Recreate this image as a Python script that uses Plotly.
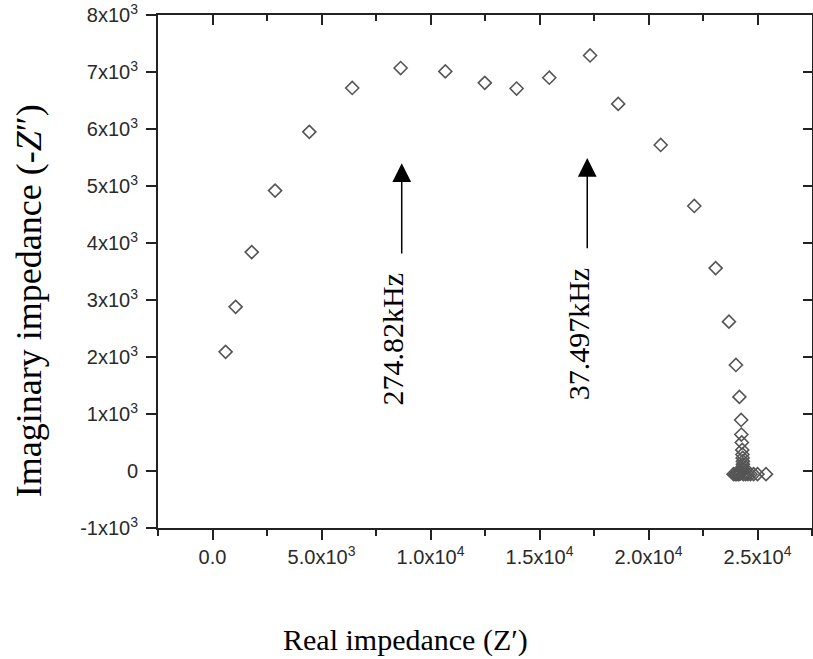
import plotly.graph_objects as go

# Nyquist data: real part Z' and imaginary part -Z'' (ohm)
z_real = [600, 1060, 1800, 2870, 4440, 6410, 8630, 10680, 12490, 13950,
          15450, 17320, 18610, 20560, 22100, 23080, 23690, 24010, 24170,
          24250, 24260, 24280, 24300, 24310, 24320, 24330, 24330, 24330,
          24320, 24300, 24270, 24230, 24180, 24120, 24050, 23980, 23900,
          24350, 24450, 24560, 24680, 24820, 25000, 25390]
z_imag = [2090, 2880, 3840, 4920, 5950, 6720, 7070, 7010, 6810, 6710,
          6900, 7290, 6440, 5720, 4650, 3560, 2620, 1860, 1300,
          895, 640, 500, 370, 290, 230, 170, 120, 80,
          40, 10, -20, -40, -50, -55, -55, -55, -55,
          -55, -55, -55, -55, -55, -55, -55]

# Frequency markers: label text, arrow x, arrow tail y, arrow tip y
freq_labels = ["274.82kHz", "37.497kHz"]
arrow_x = [8680, 17190]
arrow_tail_y = [3790, 3880]
arrow_tip_y = [5400, 5490]
label_x = [8260, 16770]
label_y = [2300, 2400]

x_tickvals = [0, 5000, 10000, 15000, 20000, 25000]
x_ticktext = ["0.0", "5.0x10<sup>3</sup>", "1.0x10<sup>4</sup>",
              "1.5x10<sup>4</sup>", "2.0x10<sup>4</sup>", "2.5x10<sup>4</sup>"]
y_tickvals = [-1000, 0, 1000, 2000, 3000, 4000, 5000, 6000, 7000, 8000]
y_ticktext = ["-1x10<sup>3</sup>", "0"] + [f"{k}x10<sup>3</sup>" for k in range(1, 9)]

x_range = [-2500, 27500]
y_range = [-1000, 8000]

axis_color = "#222222"
tick_font = dict(family="Liberation Sans, Arial, sans-serif", size=20, color="#2a2a2a")
serif = "Liberation Serif, Times New Roman, serif"

fig = go.Figure()
fig.add_trace(go.Scatter(
    x=z_real, y=z_imag, mode="markers",
    marker=dict(symbol="diamond-open", size=10, color="#555555",
                line=dict(width=1.6, color="#555555")),
    showlegend=False,
))

annotations = []
for lab, ax_, yt, yh, lx, ly in zip(freq_labels, arrow_x, arrow_tail_y,
                                     arrow_tip_y, label_x, label_y):
    annotations.append(dict(
        x=ax_, y=yh, ax=ax_, ay=yt, xref="x", yref="y", axref="x", ayref="y",
        showarrow=True, arrowhead=2, arrowsize=2.5, arrowwidth=1.5,
        arrowcolor="black", text="",
    ))
    annotations.append(dict(
        x=lx, y=ly, xref="x", yref="y", text=lab, showarrow=False,
        textangle=-90, font=dict(family=serif, size=30, color="black"),
        xanchor="center", yanchor="middle",
    ))

annotations.append(dict(
    x=0.379, y=-0.218, xref="paper", yref="paper", showarrow=False,
    text="Real impedance (Z\u2032)", font=dict(family=serif, size=30, color="black"),
    xanchor="center", yanchor="middle",
))
annotations.append(dict(
    x=-0.197, y=0.4425, xref="paper", yref="paper", showarrow=False,
    text="Imaginary impedance (-<i>Z</i>\u2033)", textangle=-90,
    font=dict(family=serif, size=36, color="black"),
    xanchor="center", yanchor="middle",
))

fig.update_layout(
    width=813, height=659,
    margin=dict(l=158, r=1, t=15, b=131),
    paper_bgcolor="white", plot_bgcolor="white",
    annotations=annotations,
    xaxis=dict(
        range=x_range, tickvals=x_tickvals, ticktext=x_ticktext,
        showgrid=False, zeroline=False, showline=True, linecolor=axis_color,
        linewidth=2, ticks="outside", ticklen=10, tickwidth=2,
        tickcolor=axis_color, tickfont=tick_font,
        minor=dict(dtick=2500, tick0=0, ticks="outside", ticklen=6,
                   tickwidth=2, tickcolor=axis_color, showgrid=False),
    ),
    yaxis=dict(
        range=y_range, tickvals=y_tickvals, ticktext=y_ticktext,
        showgrid=False, zeroline=False, showline=True, linecolor=axis_color,
        linewidth=2, ticks="outside", ticklen=10, tickwidth=2,
        tickcolor=axis_color, tickfont=tick_font, ticklabelstandoff=4,
    ),
    xaxis2=dict(
        range=x_range, overlaying="x", side="top", tickvals=x_tickvals,
        showticklabels=False, showgrid=False, zeroline=False, showline=True,
        linecolor=axis_color, linewidth=2, ticks="inside", ticklen=10,
        tickwidth=2, tickcolor=axis_color,
        minor=dict(dtick=2500, tick0=0, ticks="inside", ticklen=6,
                   tickwidth=2, tickcolor=axis_color, showgrid=False),
    ),
    yaxis2=dict(
        range=y_range, overlaying="y", side="right", tickvals=y_tickvals,
        showticklabels=False, showgrid=False, zeroline=False, showline=True,
        linecolor=axis_color, linewidth=2, ticks="inside", ticklen=9,
        tickwidth=2, tickcolor=axis_color,
    ),
)

# Invisible trace to activate the mirrored top/right axes
fig.add_trace(go.Scatter(x=[None], y=[None], xaxis="x2", yaxis="y2",
                         showlegend=False, hoverinfo="skip"))

fig.write_html("out.html")
